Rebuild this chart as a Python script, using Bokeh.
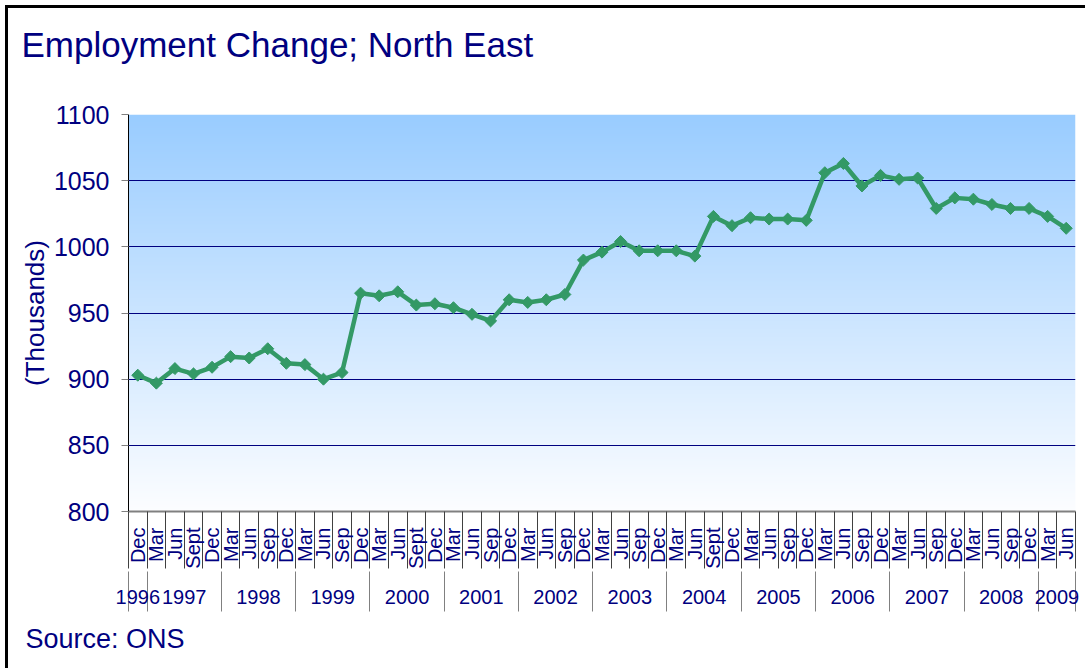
import numpy as np
from bokeh.plotting import figure
from bokeh.models import Range1d, LinearAxis, FixedTicker, Grid, Title
from bokeh.embed import file_html
from bokeh.resources import INLINE

# ---------------- data ----------------
months = ["Dec",
          "Mar", "Jun", "Sept", "Dec",
          "Mar", "Jun", "Sep", "Dec",
          "Mar", "Jun", "Sep", "Dec",
          "Mar", "Jun", "Sept", "Dec",
          "Mar", "Jun", "Sep", "Dec",
          "Mar", "Jun", "Sep", "Dec",
          "Mar", "Jun", "Sep", "Dec",
          "Mar", "Jun", "Sept", "Dec",
          "Mar", "Jun", "Sep", "Dec",
          "Mar", "Jun", "Sep", "Dec",
          "Mar", "Jun", "Sep", "Dec",
          "Mar", "Jun", "Sep", "Dec",
          "Mar", "Jun"]
years = (["1996"] + ["1997"] * 4 + ["1998"] * 4 + ["1999"] * 4 + ["2000"] * 4 +
         ["2001"] * 4 + ["2002"] * 4 + ["2003"] * 4 + ["2004"] * 4 + ["2005"] * 4 +
         ["2006"] * 4 + ["2007"] * 4 + ["2008"] * 4 + ["2009"] * 2)
values = [903,
          897, 908, 904, 909,
          917, 916, 923, 912,
          911, 900, 905, 965,
          963, 966, 956, 957,
          954, 949, 944, 960,
          958, 960, 964, 990,
          996, 1004, 997, 997,
          997, 993, 1023, 1016,
          1022, 1021, 1021, 1020,
          1056, 1063, 1046, 1054,
          1051, 1052, 1029, 1037,
          1036, 1032, 1029, 1029,
          1023, 1014]
y_ticks = [800, 850, 900, 950, 1000, 1050, 1100]

# ---------------- derived positions ----------------
n = len(values)
xs = list(range(n))
x_start, x_end = -0.5, n - 0.5
y_start, y_end = y_ticks[0], y_ticks[-1]

month_bounds = [i - 0.5 for i in range(n + 1)]
year_bounds = [-0.5] + [i - 0.5 for i in range(1, n) if years[i] != years[i - 1]] + [n - 0.5]
year_names = []
spans = []
for i, yr in enumerate(years):
    if not year_names or year_names[-1] != yr:
        year_names.append(yr)
        spans.append([i, i])
    else:
        spans[-1][1] = i
year_centers = [(a + b) / 2.0 for a, b in spans]

NAVY = "#000080"
FONT = "Liberation Sans"
GREEN = "#339966"

p = figure(width=1077, height=660, output_backend="svg", toolbar_location=None,
           x_range=Range1d(x_start, x_end), y_range=Range1d(y_start, y_end),
           x_axis_type=None, y_axis_type=None,
           min_border_left=120, min_border_right=10, min_border_top=106,
           min_border_bottom=157,
           background_fill_color="white", border_fill_color="white",
           outline_line_color=None)
p.styles = {"margin-left": "8px", "margin-top": "8px",
            "outline": "3px solid black"}

# gradient background of the plot area
rows = 400
top = np.array([153, 204, 255], dtype=float)
bot = np.array([252, 253, 255], dtype=float)
img = np.empty((rows, 1), dtype=np.uint32)
view = img.view(dtype=np.uint8).reshape((rows, 1, 4))
for r in range(rows):
    t = r / (rows - 1)
    c = bot + (top - bot) * t
    view[r, 0, 0] = int(round(c[0]))
    view[r, 0, 1] = int(round(c[1]))
    view[r, 0, 2] = int(round(c[2]))
    view[r, 0, 3] = 255
p.image_rgba(image=[img], x=x_start, y=y_start, dw=x_end - x_start,
             dh=y_end - y_start, level="image")

# y axis
yaxis = LinearAxis(ticker=FixedTicker(ticks=y_ticks), axis_label="(Thousands)")
yaxis.major_label_text_font = FONT
yaxis.major_label_text_font_size = "25px"
yaxis.major_label_text_color = NAVY
yaxis.major_label_standoff = 12
yaxis.axis_label_text_font = FONT
yaxis.axis_label_text_font_size = "26px"
yaxis.axis_label_text_font_style = "normal"
yaxis.axis_label_text_color = NAVY
yaxis.axis_label_standoff = 1
yaxis.major_tick_out = 7
yaxis.major_tick_in = 0
yaxis.major_tick_line_color = "#808080"
yaxis.minor_tick_line_color = None
yaxis.axis_line_color = "black"
p.add_layout(yaxis, "left")

p.add_layout(Grid(dimension=1, ticker=yaxis.ticker, grid_line_color=NAVY,
                  grid_line_width=1))

# month axis
maxis = LinearAxis(ticker=FixedTicker(ticks=xs, minor_ticks=month_bounds),
                   major_label_overrides={i: m for i, m in zip(xs, months)})
maxis.major_label_orientation = np.pi / 2
maxis.major_label_text_font = FONT
maxis.major_label_text_font_size = "20px"
maxis.major_label_text_color = NAVY
maxis.major_label_standoff = -41
maxis.major_tick_line_color = None
maxis.major_tick_out = 0
maxis.major_tick_in = 0
maxis.minor_tick_out = 57
maxis.minor_tick_in = 0
maxis.minor_tick_line_color = "#404040"
maxis.axis_line_color = "#808080"
maxis.axis_line_width = 2
p.add_layout(maxis, "below")

# year axis
yraxis = LinearAxis(ticker=FixedTicker(ticks=year_centers, minor_ticks=year_bounds),
                    major_label_overrides={c: yn for c, yn in zip(year_centers, year_names)})
yraxis.major_label_text_font = FONT
yraxis.major_label_text_font_size = "20px"
yraxis.major_label_text_color = NAVY
yraxis.major_label_standoff = -22
yraxis.major_tick_line_color = None
yraxis.major_tick_out = 0
yraxis.major_tick_in = 0
yraxis.minor_tick_out = 40
yraxis.minor_tick_in = 0
yraxis.minor_tick_line_color = "#808080"
yraxis.axis_line_color = None
p.add_layout(yraxis, "below")

# spacer between plot frame and title (invisible tick, blank label)
spacer = LinearAxis(ticker=FixedTicker(ticks=[xs[0]]), axis_line_color=None,
                    major_tick_line_color=None, minor_tick_line_color=None,
                    major_tick_out=47, major_tick_in=0, minor_tick_out=0,
                    major_label_standoff=0, major_label_text_font_size="1px",
                    major_label_overrides={xs[0]: " "})
p.add_layout(spacer, "above")

# series
p.line(xs, values, line_color=GREEN, line_width=4.5)
p.scatter(xs, values, marker="square", angle=np.pi / 4, size=8.5,
          fill_color=GREEN, line_color=GREEN)

# title
p.title.text = "Employment Change; North East"
p.title.text_font = FONT
p.title.text_font_size = "35px"
p.title.text_font_style = "normal"
p.title.text_color = NAVY
p.title.align = "left"
p.title.offset = -107
p.title.standoff = 0

src = Title(text="Source: ONS", align="left", offset=-103, text_font=FONT,
            text_font_size="27px", text_font_style="normal", text_color=NAVY,
            standoff=30)
p.add_layout(src, "below")

open("out.html", "w").write(file_html(p, INLINE))
